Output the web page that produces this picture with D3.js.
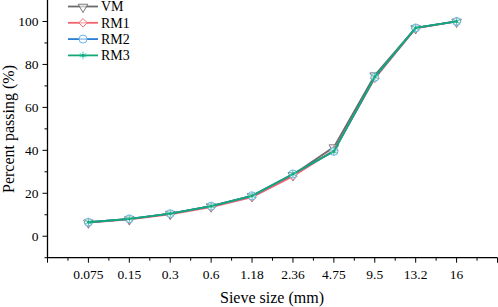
<!DOCTYPE html>
<html>
<head>
<meta charset="utf-8">
<script src="https://cdn.jsdelivr.net/npm/d3@7"></script>
<style>
  body { margin: 0; background: #fff; }
  text { font-family: "Liberation Serif", "Times New Roman", serif; fill: #000; }
</style>
</head>
<body>
<div id="chart"></div>
<script>
////
// DATA
////
var sieve_sizes = ["0.075", "0.15", "0.3", "0.6", "1.18", "2.36", "4.75", "9.5", "13.2", "16"];
var vm_values  = [6.5, 8.0, 10.5, 14.0, 18.8, 28.6, 41.5, 75.0, 97.0, 100];
var rm1_values = [6.3, 7.8, 10.2, 13.5, 18.2, 28.0, 40.0, 73.5, 96.8, 100];
var rm2_values = [6.5, 8.1, 10.5, 14.0, 18.8, 29.0, 39.5, 74.0, 97.0, 100];
var rm3_values = [6.5, 8.1, 10.5, 14.0, 18.8, 29.0, 39.5, 74.2, 97.0, 100];
var series_names = ["VM", "RM1", "RM2", "RM3"];
var y_ticks = [0, 20, 40, 60, 80, 100];

var series = [
    { name: "VM", values: vm_values, color: "#6b6b6b", marker: "tri" },
    { name: "RM1", values: rm1_values, color: "#f2616e", marker: "diamond" },
    { name: "RM2", values: rm2_values, color: "#2a7fd4", marker: "circle" },
    { name: "RM3", values: rm3_values, color: "#14a878", marker: "star" }
];

////
// CONTAINER
////
const width = 498, height = 307;
const svg = d3.select("#chart").append("svg")
    .attr("width", width)
    .attr("height", height);

var x = d3.scaleLinear().domain([-1, 10]).range([47.5, 497.5]);
var y = d3.scaleLinear().domain([-10, 110]).range([257.7, 0]);

// y axis
var y_axis = svg.append("g").attr("transform", "translate(47.5,0)");
y_axis.append("line").attr("x1", 0).attr("x2", 0).attr("y1", y(110)).attr("y2", y(-10))
    .attr("stroke", "#000").attr("stroke-width", 1.3);
y_axis.selectAll(".ymaj").data(y_ticks).enter().append("line")
    .attr("x1", -5).attr("x2", 0)
    .attr("y1", d => y(d)).attr("y2", d => y(d))
    .attr("stroke", "#000").attr("stroke-width", 1);
y_axis.selectAll(".ymin").data([-10, 10, 30, 50, 70, 90]).enter().append("line")
    .attr("x1", -3).attr("x2", 0)
    .attr("y1", d => y(d)).attr("y2", d => y(d))
    .attr("stroke", "#000").attr("stroke-width", 1);
y_axis.selectAll(".ylab").data(y_ticks).enter().append("text")
    .attr("x", -9).attr("y", d => y(d))
    .attr("dy", "0.35em").attr("text-anchor", "end")
    .style("font-size", "13.5px")
    .text(d => d);

// x axis
var x_axis = svg.append("g").attr("transform", "translate(0,257.7)");
x_axis.append("line").attr("x1", x(-1)).attr("x2", x(10)).attr("y1", 0).attr("y2", 0)
    .attr("stroke", "#000").attr("stroke-width", 1.3);
x_axis.selectAll(".xmaj").data(d3.range(-1, 11)).enter().append("line")
    .attr("x1", d => x(d)).attr("x2", d => x(d))
    .attr("y1", 0).attr("y2", 5)
    .attr("stroke", "#000").attr("stroke-width", 1);
x_axis.selectAll(".xmin").data(d3.range(-0.5, 10, 1)).enter().append("line")
    .attr("x1", d => x(d)).attr("x2", d => x(d))
    .attr("y1", 0).attr("y2", 3)
    .attr("stroke", "#000").attr("stroke-width", 1);
x_axis.selectAll(".xlab").data(sieve_sizes).enter().append("text")
    .attr("x", (d, i) => x(i)).attr("y", 21)
    .attr("text-anchor", "middle")
    .style("font-size", "13.5px")
    .text(d => d);

// axis titles
svg.append("text")
    .attr("x", 272).attr("y", 303)
    .attr("text-anchor", "middle")
    .style("font-size", "16px")
    .text("Sieve size (mm)");
svg.append("text")
    .attr("transform", "translate(13.5,129) rotate(-90)")
    .attr("text-anchor", "middle")
    .style("font-size", "16px")
    .text("Percent passing (%)");

////
// MARKERS
////
function draw_marker(g, kind, color, cx, cy) {
    if (kind == "tri") {
        g.append("path").attr("d", d3.symbol(d3.symbolTriangle, 40)())
            .attr("transform", `translate(${cx},${cy + 0.5}) rotate(180)`)
            .attr("fill", "#fff").attr("fill-opacity", 0.6).attr("stroke", color).attr("stroke-width", 0.9);
    } else if (kind == "diamond") {
        g.append("path").attr("d", d3.symbol(d3.symbolSquare, 36)())
            .attr("transform", `translate(${cx},${cy}) rotate(45)`)
            .attr("fill", "#fff").attr("fill-opacity", 0.6).attr("stroke", color).attr("stroke-width", 0.9);
    } else if (kind == "circle") {
        g.append("circle").attr("cx", cx).attr("cy", cy).attr("r", 4)
            .attr("fill", "#fff").attr("fill-opacity", 0.6).attr("stroke", "#5aaee8").attr("stroke-width", 0.9);
    } else {
        g.append("path").attr("d", d3.symbol(d3.symbolAsterisk, 40)())
            .attr("transform", `translate(${cx},${cy})`)
            .attr("fill", "none").attr("stroke", "#35c8b0").attr("stroke-width", 0.9);
        g.append("circle").attr("cx", cx).attr("cy", cy).attr("r", 1.4).attr("fill", color);
    }
}

var line = d3.line().x((d, i) => x(i)).y(d => y(d));

series.forEach(s => {
    var g = svg.append("g").attr("class", "series_" + s.name);
    g.append("path").datum(s.values)
        .attr("d", line)
        .attr("fill", "none")
        .attr("stroke", s.color)
        .attr("stroke-width", 1.8);
    s.values.forEach((v, i) => draw_marker(g, s.marker, s.color, x(i), y(v)));
});

////
// LEGEND
////
var legend = svg.append("g").attr("class", "legend");
series.forEach((s, i) => {
    var ly = 6.5 + i * 16.3;
    legend.append("line").attr("x1", 68).attr("x2", 98).attr("y1", ly).attr("y2", ly)
        .attr("stroke", s.color).attr("stroke-width", 1.8);
    draw_marker(legend, s.marker, s.color, 83, ly);
    legend.append("text").attr("x", 101).attr("y", ly).attr("dy", "0.35em")
        .style("font-size", "14px")
        .text(series_names[i]);
});
</script>
</body>
</html>
